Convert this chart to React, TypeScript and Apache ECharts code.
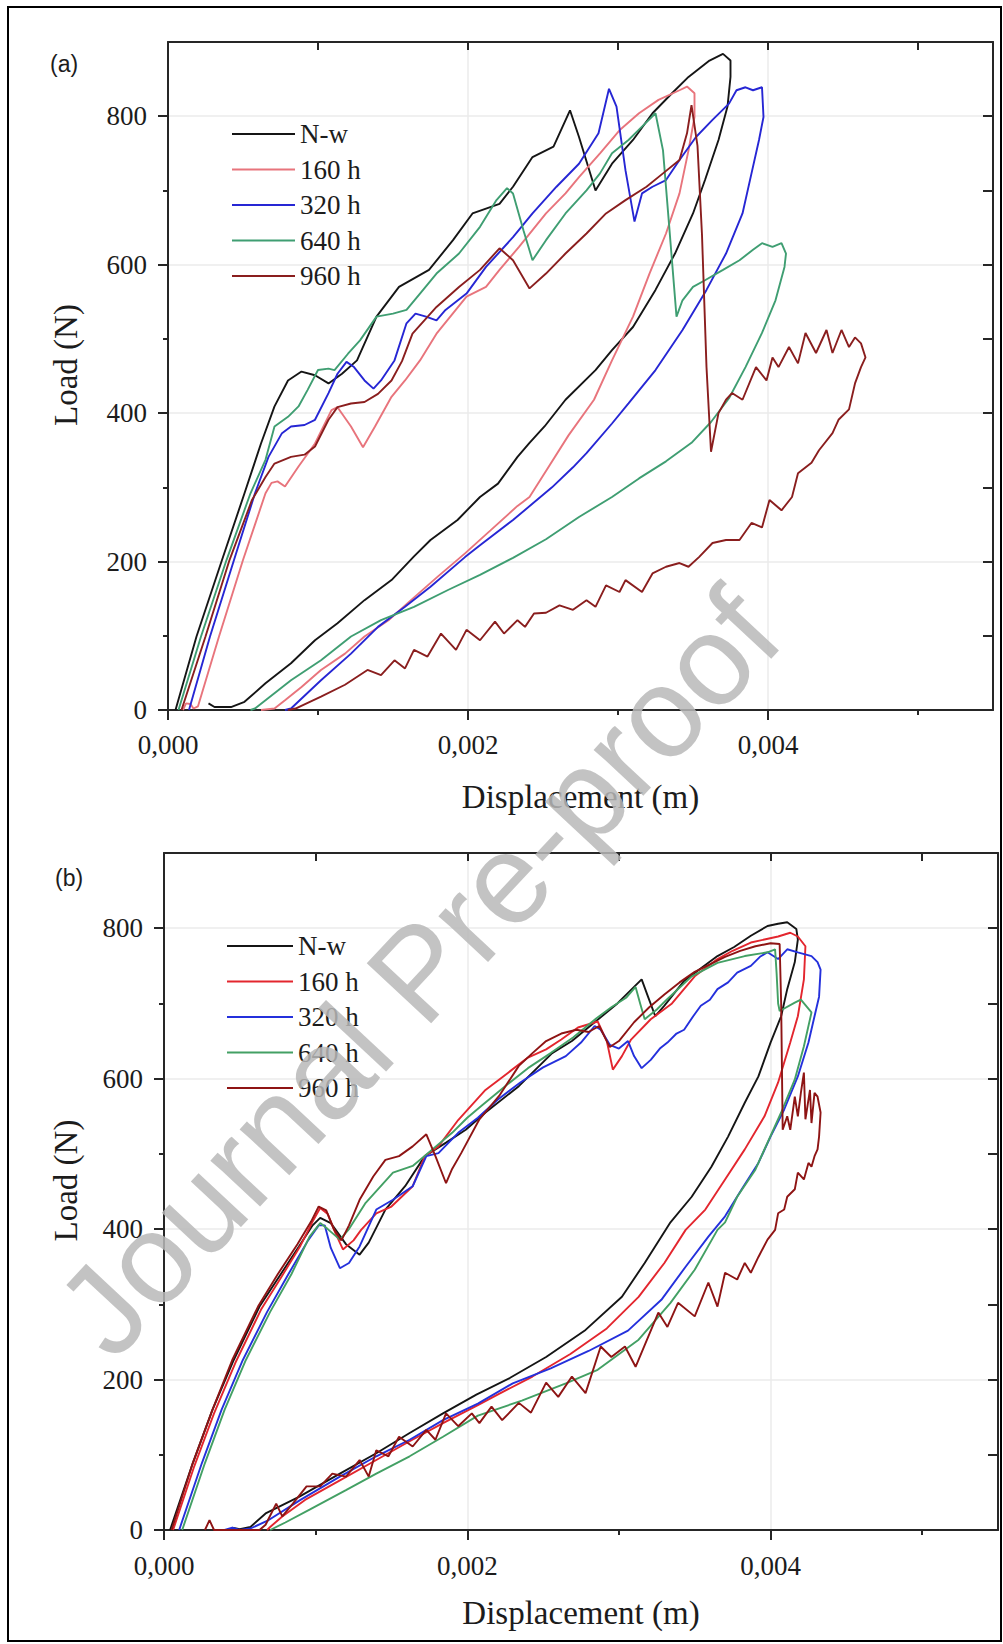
import React, { useEffect, useRef } from 'react';
import * as echarts from 'echarts';

// Displacement values below are in millimetres; the axis shows metres.
const MM_TO_M = 0.001;

const SERIES_NAMES = ['N-w', '160 h', '320 h', '640 h', '960 h'];
const X_LABEL_TICKS = [0, 0.002, 0.004];
const X_MINOR_TICKS = [0.001, 0.003, 0.005];
const X_TOP_TICKS = [0.001, 0.002, 0.003, 0.004, 0.005];
const Y_LABEL_TICKS = [0, 200, 400, 600, 800];
const Y_MINOR_TICKS = [100, 300, 500, 700];
const Y_RIGHT_TICKS = [100, 200, 300, 400, 500, 600, 700, 800];

// ---------- Panel (a) : [displacement (mm), load (N)] ----------
const a_Nw = [
  [0.05, 0], [0.19, 99], [0.36, 202], [0.51, 292], [0.62, 359], [0.71, 409], [0.8, 444], [0.89, 456], [0.98, 451],
  [1.07, 440], [1.16, 453], [1.26, 471], [1.39, 530], [1.54, 570], [1.74, 593], [1.9, 633], [2.03, 669], [2.21, 682],
  [2.3, 705], [2.43, 745], [2.57, 759], [2.68, 808], [2.74, 772], [2.85, 700], [2.96, 736], [3.1, 768], [3.23, 804],
  [3.36, 831], [3.47, 853], [3.61, 875], [3.7, 884], [3.75, 875],
  [3.75, 853], [3.73, 813], [3.67, 768], [3.58, 714], [3.5, 669], [3.38, 615], [3.25, 566], [3.1, 516], [2.96, 485],
  [2.85, 458], [2.65, 418], [2.51, 382], [2.41, 360], [2.33, 341], [2.2, 305], [2.08, 287], [1.93, 256], [1.75, 229],
  [1.64, 207], [1.49, 175], [1.31, 148], [1.13, 117], [0.98, 94], [0.82, 63], [0.65, 36], [0.51, 11], [0.42, 4],
  [0.31, 4], [0.27, 9],
];
const a_160 = [
  [0.1, 0], [0.12, 9], [0.15, 8], [0.17, 2], [0.2, 5], [0.34, 99], [0.5, 202], [0.65, 292], [0.69, 306], [0.73, 308],
  [0.78, 301], [0.87, 328], [0.98, 359], [1.09, 404], [1.13, 408], [1.22, 382], [1.3, 354], [1.38, 382], [1.49, 422],
  [1.58, 444], [1.68, 471], [1.79, 507], [1.99, 557], [2.12, 570], [2.21, 593], [2.34, 624], [2.52, 669], [2.65, 696],
  [2.74, 718], [2.88, 750], [3.01, 781], [3.14, 804], [3.27, 822], [3.41, 835], [3.46, 840], [3.51, 831],
  [3.51, 799], [3.47, 754], [3.41, 696], [3.32, 642], [3.21, 588], [3.1, 530], [2.96, 471], [2.84, 418], [2.67, 370],
  [2.52, 322], [2.41, 287], [2.33, 275], [2.15, 242], [1.98, 211], [1.8, 180], [1.62, 148], [1.47, 121], [1.31, 99],
  [1.18, 76], [1.02, 54], [0.89, 31], [0.78, 13], [0.71, 2], [0.62, 0],
];
const a_320 = [
  [0.14, 0], [0.28, 99], [0.44, 202], [0.58, 292], [0.67, 341], [0.76, 373], [0.82, 382], [0.91, 384], [0.98, 391],
  [1.07, 427], [1.13, 453], [1.19, 469], [1.24, 462], [1.31, 444], [1.37, 433], [1.42, 444], [1.51, 471], [1.59, 521],
  [1.65, 534], [1.72, 530], [1.79, 525], [1.85, 539], [1.99, 561], [2.12, 597], [2.3, 637], [2.43, 669], [2.59, 705],
  [2.74, 736], [2.87, 777], [2.94, 837], [2.99, 813], [3.05, 727], [3.11, 658], [3.16, 696], [3.23, 705], [3.32, 714],
  [3.41, 741], [3.52, 772], [3.63, 795], [3.74, 817], [3.79, 835], [3.85, 839], [3.9, 835], [3.96, 839], [3.97, 799],
  [3.94, 768], [3.89, 723], [3.83, 669], [3.72, 615], [3.59, 566], [3.43, 512], [3.25, 458], [3.07, 413], [2.96, 386],
  [2.79, 346], [2.7, 327], [2.56, 300], [2.3, 256], [2.08, 222], [1.98, 206], [1.75, 166], [1.58, 139], [1.4, 112],
  [1.22, 76], [1.02, 40], [0.82, 2], [0.78, 0],
];
const a_640 = [
  [0.07, 0], [0.22, 99], [0.39, 202], [0.55, 292], [0.65, 337], [0.71, 382], [0.8, 395], [0.87, 409], [0.93, 431],
  [1.0, 458], [1.07, 460], [1.11, 458], [1.2, 480], [1.28, 498], [1.39, 530], [1.5, 534], [1.59, 539], [1.68, 561],
  [1.79, 588], [1.94, 615], [2.08, 651], [2.19, 687], [2.26, 703], [2.3, 696], [2.37, 646], [2.43, 606], [2.52, 633],
  [2.65, 669], [2.79, 700], [2.88, 723], [2.96, 750], [3.07, 768], [3.16, 786], [3.25, 804], [3.3, 754], [3.34, 655],
  [3.39, 530], [3.43, 552], [3.5, 570], [3.58, 579], [3.7, 593], [3.81, 606], [3.9, 620], [3.96, 629], [4.03, 624],
  [4.09, 629], [4.12, 615], [4.11, 597],
  [4.05, 552], [3.96, 508], [3.85, 462], [3.74, 420], [3.62, 388], [3.49, 360], [3.32, 335], [3.14, 312], [2.96, 287],
  [2.74, 260], [2.52, 230], [2.3, 205], [2.08, 182], [1.87, 162], [1.64, 139], [1.42, 121], [1.22, 99], [1.02, 67],
  [0.82, 40], [0.58, 2], [0.55, 0],
];
const a_960 = [
  [0.09, 0], [0.25, 99], [0.41, 202], [0.56, 283], [0.65, 314], [0.71, 332], [0.82, 341], [0.91, 344], [0.98, 355],
  [1.07, 391], [1.13, 408], [1.22, 413], [1.31, 415], [1.4, 426], [1.49, 444], [1.56, 470], [1.63, 507], [1.79, 543],
  [1.94, 570], [2.08, 593], [2.21, 622], [2.3, 606], [2.41, 568], [2.52, 588], [2.65, 615], [2.79, 642], [2.92, 669],
  [3.05, 687], [3.19, 705], [3.3, 723], [3.41, 741], [3.46, 777], [3.49, 815], [3.53, 760], [3.56, 640], [3.59, 462],
  [3.62, 348], [3.67, 400], [3.72, 418], [3.76, 427], [3.83, 418], [3.92, 462], [3.99, 444], [4.03, 475], [4.07, 462],
  [4.14, 489], [4.2, 467], [4.25, 508], [4.32, 481], [4.39, 512], [4.43, 481], [4.49, 512], [4.54, 489], [4.58, 502],
  [4.62, 494], [4.65, 475],
  [4.62, 462], [4.58, 440], [4.54, 405], [4.47, 391], [4.43, 373], [4.34, 350], [4.29, 333], [4.2, 319], [4.16, 287],
  [4.09, 269], [4.01, 283], [3.96, 246], [3.89, 252], [3.81, 229], [3.72, 229], [3.63, 225], [3.54, 206], [3.47, 193],
  [3.41, 198], [3.32, 193], [3.23, 184], [3.16, 159], [3.05, 175], [3.01, 159], [2.92, 168], [2.85, 139], [2.79, 148],
  [2.7, 135], [2.61, 141], [2.52, 131], [2.44, 130], [2.38, 112], [2.33, 121], [2.24, 103], [2.18, 119], [2.08, 94],
  [1.99, 108], [1.92, 81], [1.82, 103], [1.73, 72], [1.64, 81], [1.58, 56], [1.51, 67], [1.42, 47], [1.33, 54],
  [1.18, 34], [1.02, 18], [0.85, 2], [0.8, 0],
];

// ---------- Panel (b) : [displacement (mm), load (N)] ----------
const b_Nw = [
  [0.04, 0], [0.19, 89], [0.32, 160], [0.46, 226], [0.63, 297], [0.76, 337], [0.89, 377], [0.98, 405], [1.03, 415],
  [1.1, 408], [1.2, 380], [1.29, 366], [1.35, 382], [1.46, 426], [1.59, 457], [1.72, 497], [1.86, 515], [1.99, 532],
  [2.12, 555], [2.34, 590], [2.56, 634], [2.69, 650], [2.84, 675], [2.99, 700], [3.1, 722], [3.15, 732], [3.19, 710],
  [3.24, 683], [3.3, 697], [3.43, 730], [3.55, 748], [3.65, 763], [3.76, 775], [3.87, 790], [3.98, 803], [4.05, 806],
  [4.11, 808], [4.17, 799], [4.18, 785],
  [4.16, 755], [4.11, 719], [4.07, 683], [4.0, 648], [3.92, 603], [3.83, 568], [3.72, 523], [3.61, 483], [3.48, 443],
  [3.34, 409], [3.17, 355], [3.02, 310], [2.78, 266], [2.52, 230], [2.28, 202], [2.06, 180], [1.84, 155], [1.62, 129],
  [1.4, 102], [1.16, 75], [0.89, 44], [0.67, 22], [0.57, 4], [0.5, 1], [0.45, 3],
];
const b_160 = [
  [0.06, 0], [0.2, 85], [0.33, 155], [0.47, 222], [0.64, 293], [0.77, 335], [0.9, 378], [0.98, 410], [1.03, 428],
  [1.08, 420], [1.13, 395], [1.18, 373], [1.25, 385], [1.3, 399], [1.4, 421], [1.5, 430], [1.64, 457], [1.72, 497],
  [1.81, 510], [1.94, 545], [2.12, 585], [2.27, 608], [2.4, 628], [2.52, 639], [2.62, 652], [2.73, 668], [2.86, 676],
  [2.92, 650], [2.96, 612], [3.02, 630], [3.08, 652], [3.21, 679], [3.35, 700], [3.5, 736], [3.65, 759], [3.75, 770],
  [3.87, 781], [3.96, 785], [4.05, 789], [4.13, 794], [4.18, 789], [4.23, 776],
  [4.22, 732], [4.18, 683], [4.13, 648], [4.05, 595], [3.96, 550], [3.83, 506], [3.7, 466], [3.57, 426], [3.44, 399],
  [3.3, 355], [3.13, 310], [2.92, 268], [2.68, 234], [2.43, 204], [2.2, 180], [2.07, 166], [1.84, 142], [1.62, 118],
  [1.4, 93], [1.16, 66], [0.93, 40], [0.78, 18], [0.7, 4], [0.68, 0],
];
const b_320 = [
  [0.1, 0], [0.25, 89], [0.38, 160], [0.52, 226], [0.68, 290], [0.82, 340], [0.95, 385], [1.02, 405], [1.06, 405],
  [1.1, 375], [1.16, 348], [1.22, 355], [1.29, 377], [1.4, 426], [1.51, 439], [1.64, 457], [1.73, 497], [1.81, 501],
  [1.94, 528], [2.07, 548], [2.2, 572], [2.35, 595], [2.5, 615], [2.65, 630], [2.75, 648], [2.84, 670], [2.88, 665],
  [2.94, 645], [3.0, 640], [3.06, 650], [3.1, 630], [3.15, 614], [3.21, 625], [3.27, 640], [3.32, 648], [3.38, 660],
  [3.43, 665], [3.49, 683], [3.54, 697], [3.6, 705], [3.65, 719], [3.72, 728], [3.78, 741], [3.87, 750], [3.93, 762],
  [3.98, 768], [4.05, 759], [4.11, 772], [4.18, 768], [4.27, 763], [4.31, 755], [4.33, 745],
  [4.32, 709], [4.29, 683], [4.25, 648], [4.18, 603], [4.09, 559], [4.0, 523], [3.92, 488], [3.81, 453], [3.7, 417],
  [3.59, 390], [3.44, 350], [3.28, 306], [3.06, 265], [2.8, 238], [2.55, 215], [2.3, 195], [2.07, 168], [1.84, 146],
  [1.62, 120], [1.4, 98], [1.16, 71], [0.9, 40], [0.68, 12], [0.57, 2], [0.5, 0], [0.45, 3], [0.4, 0],
];
const b_640 = [
  [0.12, 0], [0.27, 89], [0.4, 160], [0.54, 226], [0.7, 290], [0.84, 340], [0.96, 390], [1.03, 408], [1.08, 400],
  [1.16, 386], [1.22, 400], [1.33, 435], [1.51, 475], [1.64, 484], [1.77, 506], [1.9, 528], [2.0, 548], [2.1, 565],
  [2.25, 590], [2.4, 614], [2.55, 634], [2.7, 655], [2.85, 680], [2.95, 695], [3.05, 708], [3.11, 722], [3.14, 700],
  [3.17, 679], [3.25, 692], [3.32, 706], [3.48, 736], [3.65, 754], [3.83, 763], [3.98, 768], [4.03, 772], [4.04, 740],
  [4.05, 700], [4.06, 690], [4.16, 701], [4.2, 705], [4.27, 688],
  [4.22, 643], [4.16, 599], [4.07, 555], [3.98, 515], [3.9, 479], [3.78, 443], [3.7, 409], [3.65, 399], [3.5, 346],
  [3.34, 302], [3.13, 253], [2.86, 213], [2.65, 195], [2.36, 172], [2.07, 152], [1.84, 124], [1.62, 98], [1.4, 75],
  [1.2, 53], [0.96, 27], [0.8, 10], [0.72, 2], [0.7, 0],
];
const b_960 = [
  [0.05, 0], [0.19, 89], [0.32, 160], [0.45, 226], [0.62, 297], [0.75, 340], [0.88, 380], [0.97, 410], [1.02, 430],
  [1.07, 425], [1.12, 400], [1.17, 385], [1.22, 405], [1.29, 439], [1.38, 470], [1.46, 492], [1.55, 497], [1.64, 510],
  [1.73, 526], [1.79, 497], [1.86, 461], [1.9, 480], [1.96, 501], [2.08, 546], [2.21, 577], [2.34, 617], [2.43, 634],
  [2.52, 650], [2.62, 660], [2.72, 665], [2.8, 662], [2.87, 670], [2.94, 642], [3.0, 650], [3.1, 675], [3.2, 695],
  [3.3, 712], [3.4, 728], [3.5, 742], [3.6, 752], [3.7, 762], [3.8, 770], [3.9, 776], [4.0, 780], [4.06, 779],
  [4.07, 700], [4.08, 532], [4.11, 550], [4.13, 532], [4.16, 576], [4.18, 550], [4.2, 581], [4.22, 608], [4.23, 546],
  [4.26, 585], [4.27, 541], [4.29, 581], [4.31, 576], [4.33, 555], [4.32, 523], [4.31, 506], [4.29, 497], [4.27, 483],
  [4.25, 488], [4.22, 466], [4.18, 475], [4.16, 453], [4.11, 443], [4.09, 426], [4.05, 421], [4.03, 399], [3.98, 386],
  [3.92, 363], [3.87, 342], [3.83, 355], [3.78, 333], [3.7, 342], [3.65, 297], [3.59, 329], [3.5, 284], [3.39, 302],
  [3.32, 270], [3.26, 289], [3.11, 217], [3.04, 244], [2.95, 230], [2.88, 244], [2.78, 182], [2.69, 204], [2.6, 177],
  [2.52, 196], [2.42, 156], [2.34, 169], [2.23, 146], [2.16, 164], [2.08, 142], [2.03, 155], [1.94, 138], [1.86, 155],
  [1.79, 120], [1.73, 133], [1.64, 111], [1.55, 124], [1.48, 98], [1.4, 106], [1.35, 71], [1.29, 93], [1.2, 71],
  [1.11, 75], [1.03, 58], [0.94, 58], [0.85, 35], [0.78, 18], [0.74, 35], [0.67, 7], [0.63, 0], [0.33, 0], [0.3, 13],
  [0.27, 0],
];

const PANEL_A = [a_Nw, a_160, a_320, a_640, a_960];
const PANEL_B = [b_Nw, b_160, b_320, b_640, b_960];
const COLORS_A = ['#151515', '#e8747c', '#2626d4', '#3f9e72', '#8a1e1e'];
const COLORS_B = ['#151515', '#e3262e', '#2430dc', '#43a064', '#8e1414'];

const SERIF = '"Liberation Serif", "Times New Roman", serif';
const SANS = '"Liberation Sans", Arial, sans-serif';
const TEXT = '#1c1c1c';
const AXIS = '#262626';
const GRIDLINE = '#ebebeb';

function fmtX(v: number) {
  return v.toFixed(3).replace('.', ',');
}

function buildXAxes(g: number, nameGap: number, labelMargin: number) {
  const common = { type: 'value', gridIndex: g, min: 0, max: 0.0055 };
  return [
    {
      ...common,
      position: 'bottom',
      interval: 0.001,
      axisLine: { show: true, onZero: false, lineStyle: { color: AXIS, width: 2 } },
      axisTick: { show: true, length: 10, customValues: X_LABEL_TICKS, lineStyle: { color: AXIS, width: 2 } },
      axisLabel: {
        customValues: X_LABEL_TICKS,
        formatter: (v: number) => fmtX(v),
        margin: labelMargin,
        fontFamily: SERIF,
        fontSize: 27,
        color: TEXT,
      },
      splitLine: { show: true, lineStyle: { color: GRIDLINE, width: 1.5 } },
      name: 'Displacement (m)',
      nameLocation: 'middle',
      nameGap,
      nameTextStyle: { fontFamily: SERIF, fontSize: 33, color: TEXT },
    },
    {
      ...common,
      position: 'bottom',
      axisLine: { show: false, onZero: false },
      axisTick: { show: true, length: 5, customValues: X_MINOR_TICKS, lineStyle: { color: AXIS, width: 2 } },
      axisLabel: { show: false },
      splitLine: { show: false },
    },
    {
      ...common,
      position: 'top',
      axisLine: { show: true, onZero: false, lineStyle: { color: AXIS, width: 2 } },
      axisTick: { show: true, inside: true, length: 8, customValues: X_TOP_TICKS, lineStyle: { color: AXIS, width: 2 } },
      axisLabel: { show: false },
      splitLine: { show: false },
    },
  ];
}

function buildYAxes(g: number, nameGap: number) {
  const common = { type: 'value', gridIndex: g, min: 0, max: 900 };
  return [
    {
      ...common,
      position: 'left',
      interval: 100,
      axisLine: { show: true, onZero: false, lineStyle: { color: AXIS, width: 2 } },
      axisTick: { show: true, length: 10, customValues: Y_LABEL_TICKS, lineStyle: { color: AXIS, width: 2 } },
      axisLabel: {
        customValues: Y_LABEL_TICKS,
        formatter: (v: number) => String(v),
        margin: 21,
        fontFamily: SERIF,
        fontSize: 27,
        color: TEXT,
      },
      splitLine: { show: true, lineStyle: { color: GRIDLINE, width: 1.5 } },
      name: 'Load (N)',
      nameLocation: 'middle',
      nameRotate: 90,
      nameGap,
      nameTextStyle: { fontFamily: SERIF, fontSize: 33, color: TEXT, padding: [0, 0, 0, 22] },
    },
    {
      ...common,
      position: 'left',
      axisLine: { show: false, onZero: false },
      axisTick: { show: true, length: 5, customValues: Y_MINOR_TICKS, lineStyle: { color: AXIS, width: 2 } },
      axisLabel: { show: false },
      splitLine: { show: false },
    },
    {
      ...common,
      position: 'right',
      axisLine: { show: true, onZero: false, lineStyle: { color: AXIS, width: 2 } },
      axisTick: { show: true, inside: true, length: 10, customValues: Y_RIGHT_TICKS, lineStyle: { color: AXIS, width: 2 } },
      axisLabel: { show: false },
      splitLine: { show: false },
    },
  ];
}

function buildSeries(panel: number[][][], prefix: string, colors: string[], axisIndex: number) {
  return panel.map((pts, i) => ({
    type: 'line',
    name: prefix + '|' + SERIES_NAMES[i],
    xAxisIndex: axisIndex,
    yAxisIndex: axisIndex,
    data: pts.map((p) => [p[0] * MM_TO_M, p[1]]),
    symbol: 'none',
    showSymbol: false,
    silent: true,
    lineStyle: { color: colors[i], width: 1.9 },
    itemStyle: { color: colors[i] },
  }));
}

function buildLegend(prefix: string, left: number, top: number, itemWidth: number) {
  return {
    data: SERIES_NAMES.map((n) => prefix + '|' + n),
    orient: 'vertical',
    left,
    top,
    icon: 'rect',
    itemWidth,
    itemHeight: 2,
    itemGap: 7.5,
    selectedMode: false,
    formatter: (n: string) => n.split('|')[1],
    textStyle: { fontFamily: SERIF, fontSize: 27, color: TEXT, lineHeight: 28 },
  };
}

export default function App() {
  const ref = useRef<HTMLDivElement>(null);

  useEffect(() => {
    const prevMargin = document.body.style.margin;
    document.body.style.margin = '0';
    if (!ref.current) return;
    const chart = echarts.init(ref.current, null, { renderer: 'svg' });

    const option = {
      animation: false,
      backgroundColor: '#ffffff',
      grid: [
        { left: 168, top: 42, width: 825, height: 668 },
        { left: 164, top: 853, width: 834, height: 677 },
      ],
      xAxis: [...buildXAxes(0, 70, 21), ...buildXAxes(1, 66, 22)],
      yAxis: [...buildYAxes(0, 86), ...buildYAxes(1, 82)],
      legend: [buildLegend('a', 227, 115, 63), buildLegend('b', 222, 927, 66)],
      series: [...buildSeries(PANEL_A, 'a', COLORS_A, 0), ...buildSeries(PANEL_B, 'b', COLORS_B, 3)],
      graphic: [
        {
          type: 'rect',
          shape: { x: 8, y: 7, width: 993, height: 1634 },
          style: { fill: 'none', stroke: '#000', lineWidth: 2 },
          silent: true,
          z: 0,
        },
        {
          type: 'text',
          x: 50,
          y: 64,
          style: { text: '(a)', font: '23px ' + SANS, fill: TEXT, align: 'left', verticalAlign: 'middle' },
          silent: true,
        },
        {
          type: 'text',
          x: 55,
          y: 878,
          style: { text: '(b)', font: '23px ' + SANS, fill: TEXT, align: 'left', verticalAlign: 'middle' },
          silent: true,
        },
        {
          type: 'text',
          x: 418,
          y: 972,
          rotation: (47 * Math.PI) / 180,
          style: {
            text: 'Journal Pre-proof',
            font: '128px ' + SANS,
            fill: 'rgba(185,185,185,0.85)',
            align: 'center',
            verticalAlign: 'middle',
          },
          silent: true,
          z: 100,
        },
      ],
    };

    chart.setOption(option as any);
    return () => {
      chart.dispose();
      document.body.style.margin = prevMargin;
    };
  }, []);

  return <div ref={ref} style={{ width: 1003, height: 1644 }} />;
}
